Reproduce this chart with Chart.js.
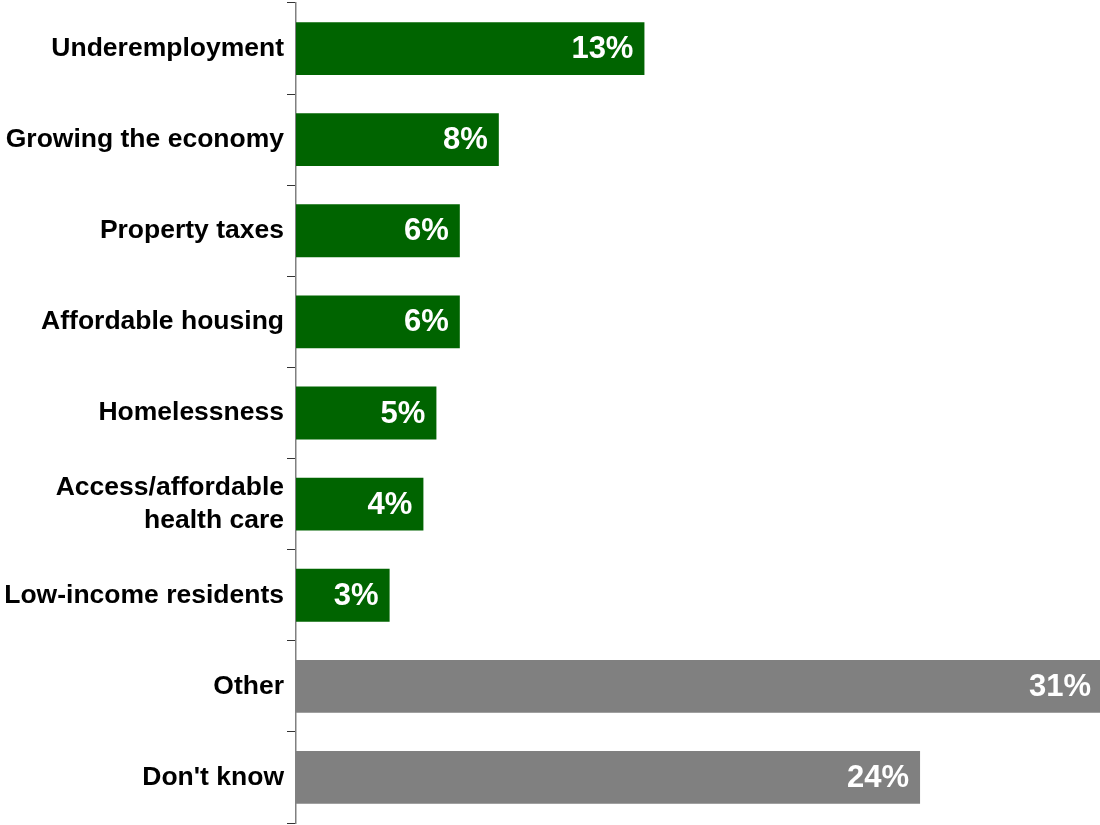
<!DOCTYPE html>
<html>
<head>
<meta charset="utf-8">
<script src="https://cdn.jsdelivr.net/npm/chart.js@4/dist/chart.umd.min.js"></script>
<style>
  html, body { margin: 0; padding: 0; background: #fff; }
  #wrap { width: 1100px; height: 825px; }
</style>
</head>
<body>
<div id="wrap"><canvas id="chart" width="1100" height="825"></canvas></div>
<script>
// categories, values (%), labels shown on the bars
const categories = [
    'Underemployment',
    'Growing the economy',
    'Property taxes',
    'Affordable housing',
    'Homelessness',
    ['Access/affordable', 'health care'],
    'Low-income residents',
    'Other',
    "Don't know"
];
const values = [13.4, 7.8, 6.3, 6.3, 5.4, 4.9, 3.6, 31, 24];
const valueLabels = ['13%', '8%', '6%', '6%', '5%', '4%', '3%', '31%', '24%'];
const barColors = ['#006400', '#006400', '#006400', '#006400', '#006400', '#006400', '#006400', '#808080', '#808080'];

const FONT = "'Liberation Sans', Arial, sans-serif";

// white % labels inside the end of each bar
const barLabels = {
    id: 'barLabels',
    afterDatasetsDraw(chart) {
        const ctx = chart.ctx;
        const meta = chart.getDatasetMeta(0);
        ctx.save();
        ctx.fillStyle = '#ffffff';
        ctx.font = 'bold 31px ' + FONT;
        ctx.textAlign = 'right';
        ctx.textBaseline = 'middle';
        meta.data.forEach((bar, i) => {
            ctx.fillText(valueLabels[i], bar.x - 11, bar.y + 1);
        });
        ctx.restore();
    }
};

new Chart(document.getElementById('chart'), {
    type: 'bar',
    data: {
        labels: categories,
        datasets: [{
            data: values,
            backgroundColor: barColors,
            borderWidth: 0,
            barPercentage: 0.58,
            categoryPercentage: 1
        }]
    },
    options: {
        indexAxis: 'y',
        responsive: false,
        animation: false,
        layout: { padding: { top: 3, bottom: 2, left: 0, right: 0 } },
        plugins: {
            legend: { display: false },
            tooltip: { enabled: false }
        },
        scales: {
            x: {
                display: false,
                min: 0,
                max: 30.92
            },
            y: {
                afterFit(scale) {
                    scale.width = 296;
                    scale.paddingTop = 0;
                    scale.paddingBottom = 0;
                },
                grid: {
                    offset: true,
                    drawOnChartArea: false,
                    drawTicks: true,
                    tickLength: 9,
                    color: '#333333',
                    lineWidth: 1
                },
                border: { color: '#808080', width: 1.5 },
                ticks: {
                    color: '#000000',
                    padding: 3,
                    font: { family: FONT, size: 26.5, weight: 'bold', lineHeight: 1.25 }
                }
            }
        }
    },
    plugins: [barLabels]
});
</script>
</body>
</html>
